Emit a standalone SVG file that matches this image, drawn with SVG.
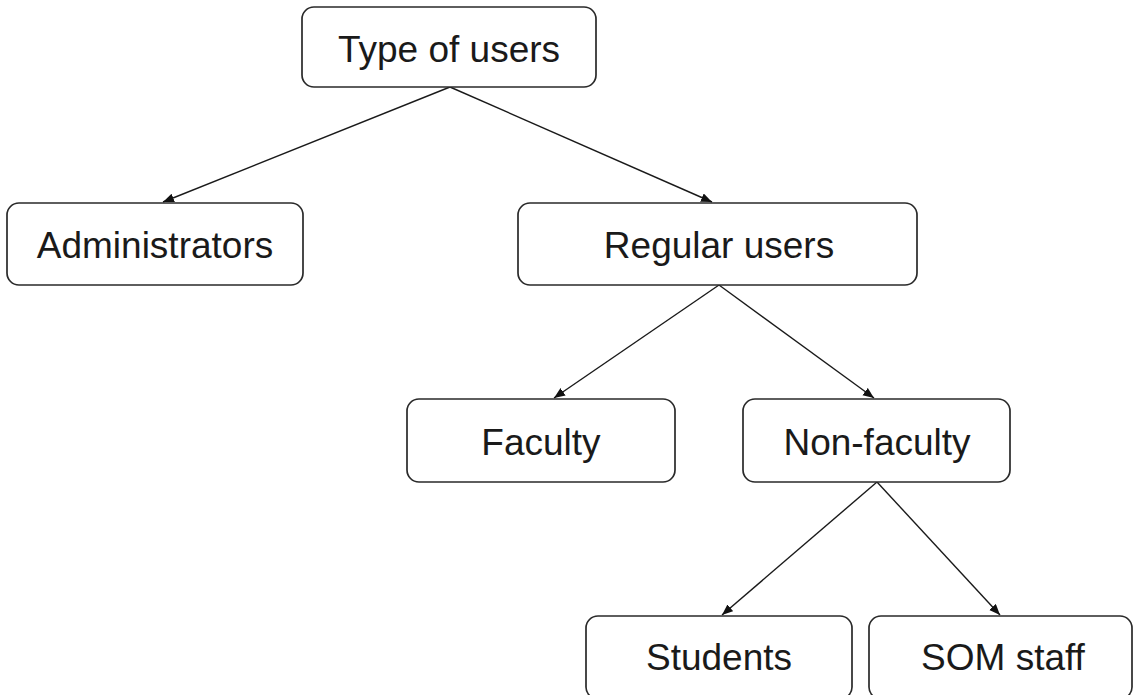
<svg xmlns="http://www.w3.org/2000/svg" width="1133" height="695" viewBox="0 0 1133 695">
<style>
.box{fill:#fff;stroke:#2a2a2a;stroke-width:1.7}
.lbl{font-family:"Liberation Sans",Arial,sans-serif;font-size:37px;fill:#1a1a1a;text-anchor:middle}
.edge{stroke:#1a1a1a;stroke-width:1.4;fill:none;marker-end:url(#arr)}
</style>
<defs>
<marker id="arr" markerUnits="userSpaceOnUse" markerWidth="12" markerHeight="10" refX="11" refY="4.5" orient="auto">
<path d="M0,0 L11,4.5 L0,9 Z" fill="#111"/>
</marker>
</defs>
<rect width="1133" height="695" fill="#fff"/>
<g id="connectors">
<line class="edge" x1="450" y1="87" x2="163" y2="202"/>
<line class="edge" x1="450" y1="87" x2="712" y2="202"/>
<line class="edge" x1="719" y1="285" x2="554" y2="398"/>
<line class="edge" x1="719" y1="285" x2="874" y2="398"/>
<line class="edge" x1="877" y1="482" x2="722" y2="615"/>
<line class="edge" x1="877" y1="482" x2="1000" y2="615"/>
</g>
<g id="type-of-users">
<rect class="box" x="302" y="7" width="294" height="80" rx="12"/>
<text class="lbl" x="449" y="62">Type of users</text>
</g>
<g id="administrators">
<rect class="box" x="7" y="203" width="296" height="82" rx="12"/>
<text class="lbl" x="155" y="258">Administrators</text>
</g>
<g id="regular-users">
<rect class="box" x="518" y="203" width="399" height="82" rx="12"/>
<text class="lbl" x="719" y="258">Regular users</text>
</g>
<g id="faculty">
<rect class="box" x="407" y="399" width="268" height="83" rx="12"/>
<text class="lbl" x="541" y="455">Faculty</text>
</g>
<g id="non-faculty">
<rect class="box" x="743" y="399" width="267" height="83" rx="12"/>
<text class="lbl" x="877" y="455">Non-faculty</text>
</g>
<g id="students">
<rect class="box" x="586" y="616" width="266" height="83" rx="12"/>
<text class="lbl" x="719" y="670">Students</text>
</g>
<g id="som-staff">
<rect class="box" x="869" y="616" width="263" height="83" rx="12"/>
<text class="lbl" x="1003" y="670">SOM staff</text>
</g>
</svg>
